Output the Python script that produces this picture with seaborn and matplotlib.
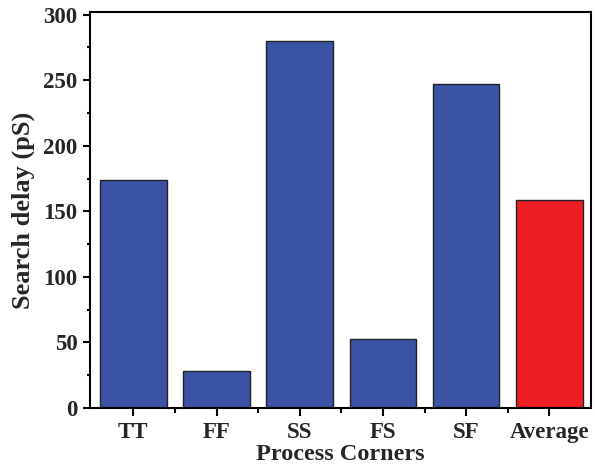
import matplotlib
matplotlib.use("Agg")
import matplotlib.pyplot as plt
from matplotlib.ticker import MultipleLocator, FixedLocator
import seaborn as sns
import pandas as pd

# Search delay per process corner
corners = ["TT", "FF", "SS", "FS", "SF", "Average"]
delay_ps = [174, 28, 280, 53, 247, 159]
bar_colors = ["#3A53A4", "#3A53A4", "#3A53A4", "#3A53A4", "#3A53A4", "#EE1E25"]

df = pd.DataFrame({"corner": corners, "delay": delay_ps})

sns.set_style("white")
plt.rcParams["font.family"] = ["Liberation Serif", "DejaVu Serif"]
plt.rcParams["font.weight"] = "bold"

fig = plt.figure(figsize=(5.95, 4.68), dpi=100)
ax = fig.add_axes([0.1513, 0.1282, 0.842, 0.846])

sns.barplot(data=df, x="corner", y="delay", hue="corner", palette=bar_colors,
            order=corners, hue_order=corners, legend=False, width=0.8,
            edgecolor="#222222", linewidth=1.0, saturation=1, ax=ax)

ax.set_xlim(-0.52, 5.5)
ax.set_ylim(0, 302)
ax.yaxis.set_major_locator(MultipleLocator(50))
ax.yaxis.set_minor_locator(MultipleLocator(25))
ax.xaxis.set_minor_locator(FixedLocator([0.5, 1.5, 2.5, 3.5, 4.5]))

for s in ax.spines.values():
    s.set_linewidth(1.5)
    s.set_color("black")

ax.tick_params(axis="both", which="major", direction="out", length=6,
               width=1.5, color="black", labelsize=16.5, pad=4,
               bottom=True, left=True)
ax.tick_params(axis="both", which="minor", direction="out", length=3.5,
               width=1.5, color="black", bottom=True, left=True)
ax.tick_params(axis="y", which="major", length=5)
ax.tick_params(axis="y", which="minor", length=2.5)
for lbl in ax.get_xticklabels() + ax.get_yticklabels():
    lbl.set_fontweight("bold")

ax.set_xlabel("Process Corners", fontsize=17.5, fontweight="bold", labelpad=1)
ax.set_ylabel("Search delay (pS)", fontsize=19, fontweight="bold", labelpad=6)

fig.savefig("out.png", dpi=100, facecolor="white")
